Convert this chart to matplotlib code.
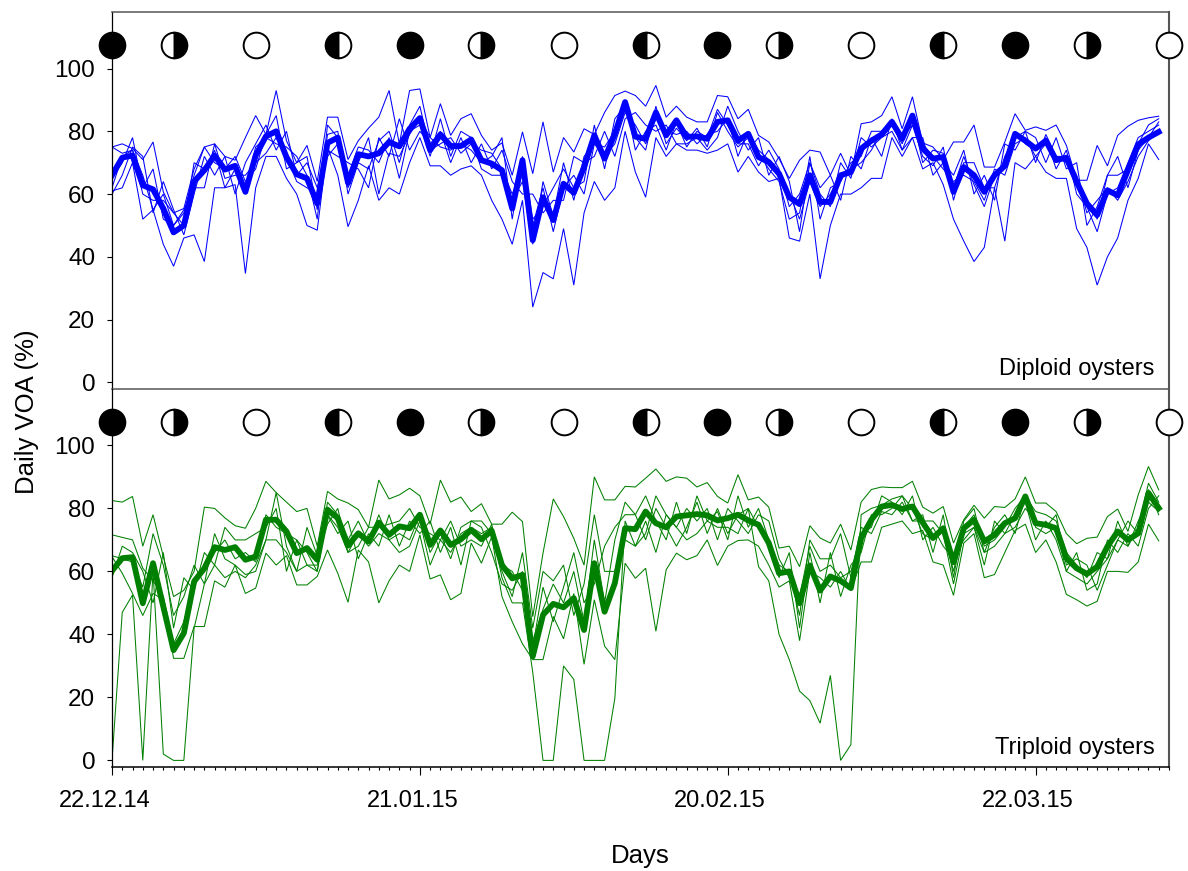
import numpy as np
import matplotlib
matplotlib.use('Agg')
import matplotlib.pyplot as plt
from matplotlib.transforms import ScaledTranslation

plt.rcParams['font.family'] = ['Liberation Sans', 'DejaVu Sans']

# Values, one entry per day from 22.12.14
diploid_mean = [66, 71.6, 72.3, 62.8, 61.5, 55.4, 47.8, 50, 64, 67.6,
                72.3, 67.8, 69, 60.7, 72.3, 78.4, 80, 71.8, 66.3, 65,
                57, 76.3, 78, 63.6, 72.7, 72, 73, 76.6, 75.2, 80.8,
                84.2, 74, 79, 75.3, 75.3, 77.4, 70.8, 69.7, 67.6, 55.4,
                70.8, 45.3, 59, 51.7, 63.3, 60.4, 68.6, 78.7, 71.3, 79.2,
                89.3, 78.3, 77.6, 86, 78.7, 83.5, 78.2, 78.4, 77.6, 83,
                83.5, 77, 79.2, 71.8, 70.2, 66.5, 59, 56.8, 66, 57.5,
                57.5, 66, 67, 74.5, 77, 79, 83, 77.6, 85, 74.5,
                71.3, 71.8, 60.7, 68.6, 66, 60.7, 66, 69, 79.2, 77,
                74.5, 77, 70.8, 71.6, 63.9, 57, 53.3, 61.2, 59.6, 67.6,
                75.8, 78, 79.8]
diploid_a = [75, 76, 74.5, 71, 76.6, 60.7, 54, 55.4, 68, 75,
             76, 72, 70.8, 78, 85, 79, 93, 77, 70, 75.5,
             64, 84.5, 84.5, 71, 77, 81, 84.5, 93, 76, 93,
             93.5, 78, 88.8, 78.7, 84, 85.6, 78.7, 74, 76.3, 66,
             79.8, 66.5, 83, 67, 78, 73.4, 80.8, 79, 86, 91.4,
             92.8, 91.4, 88, 94.6, 84.5, 88, 84.5, 83, 83, 91.4,
             91, 84, 87, 78.7, 76.6, 71.3, 65, 70.8, 74, 73.4,
             66, 73, 66, 82.4, 83, 85, 91, 80.8, 91, 76.3,
             75, 71, 76.6, 76.6, 82, 68.6, 68.6, 76.6, 85.6, 80.3,
             81.4, 80.3, 82, 75.5, 64.4, 64.4, 75.5, 69, 78.7, 81.6,
             83.5, 84.3, 84.8]
diploid_b = [61, 62, 70, 52, 55, 44, 37, 46, 47, 38.5,
             62, 62, 63, 34.7, 62, 72, 72, 65, 60, 50,
             48.5, 75, 66, 49.6, 58, 69, 58, 62, 60, 70,
             78, 69, 69, 66, 68, 69, 66, 58, 52, 44,
             58, 24, 35, 33, 49, 31, 54, 64, 58, 62,
             80, 67, 59, 78, 72, 76, 74, 74, 73, 74,
             76, 67, 72, 67, 64, 65, 46, 45, 60, 33,
             50, 60, 60, 62, 65, 65, 78, 72, 78, 68,
             70, 63, 52, 45, 38.5, 43, 62, 45, 70, 68,
             72, 67, 65, 65, 49, 43, 31, 40, 46, 58,
             65, 76, 71]
diploid_c = [65, 70, 78, 62, 68, 52, 50, 54, 66, 75,
             70, 68, 72, 64, 68, 79, 85, 68, 70, 72,
             55, 79, 80, 60, 70, 78, 60, 73, 72, 79,
             84, 78, 75, 74, 76, 74, 70, 72, 78, 52,
             72, 52, 56, 62, 68, 62, 64, 82, 68, 84,
             88, 78, 74, 88, 76, 81, 77, 81, 75, 86,
             80, 75, 78, 73, 68, 64, 52, 54, 72, 52,
             62, 64, 70, 72, 80, 80, 82, 76, 85, 70,
             74, 73, 62, 72, 63, 56, 66, 70, 80, 76,
             74, 78, 68, 74, 60, 56, 48, 60, 62, 70,
             78, 80, 82]
diploid_d = [75, 73, 74, 60, 58, 58, 54, 50, 70, 68,
             74, 62, 68, 62, 75, 78, 76, 75, 72, 66,
             52, 82, 78, 66, 75, 74, 70, 78, 65, 80,
             82, 72, 84, 72, 80, 78, 68, 66, 66, 58,
             64, 44, 64, 53, 70, 58, 72, 76, 75, 80,
             90, 74, 80, 82, 74, 83, 75, 80, 78, 87,
             82, 76, 76, 69, 74, 68, 56, 60, 70, 60,
             56, 70, 65, 78, 75, 78, 80, 74, 82, 72,
             69, 75, 58, 70, 70, 62, 62, 72, 78, 80,
             70, 79, 72, 70, 64, 58, 52, 66, 66, 68,
             76, 82, 84]
diploid_e = [62, 72, 74, 66, 55, 60, 50, 55, 62, 62,
             76, 65, 66, 66, 70, 73, 78, 72, 64, 62,
             60, 72, 76, 62, 70, 68, 77, 80, 70, 82,
             88, 74, 76, 78, 73, 76, 74, 73, 68, 60,
             68, 50, 62, 48, 62, 66, 60, 76, 72, 76,
             86, 82, 76, 84, 80, 79, 80, 76, 79, 80,
             84, 72, 80, 74, 71, 66, 60, 52, 64, 56,
             60, 66, 68, 70, 74, 80, 82, 78, 82, 76,
             72, 68, 64, 66, 64, 58, 68, 66, 76, 78,
             72, 76, 72, 72, 66, 54, 58, 62, 58, 64,
             72, 77, 80]
diploid_f = [60, 66, 75, 72, 54, 64, 55, 47, 60, 72,
             66, 72, 60, 70, 76, 82, 74, 80, 66, 70,
             62, 74, 72, 70, 68, 62, 78, 72, 84, 74,
             80, 76, 80, 70, 78, 70, 76, 68, 74, 64,
             60, 60, 54, 58, 58, 72, 70, 72, 80, 72,
             84, 86, 82, 80, 82, 76, 76, 78, 74, 78,
             88, 80, 74, 78, 66, 72, 64, 48, 70, 62,
             66, 58, 72, 68, 78, 72, 84, 74, 78, 78,
             66, 70, 66, 74, 60, 66, 58, 76, 74, 80,
             78, 70, 78, 68, 70, 50, 56, 66, 72, 62,
             74, 78, 83]

triploid_mean = [60.2, 64.2, 64.5, 49.9, 62.6, 48.8, 35, 40.4, 56.8, 61,
                 67.7, 66.8, 67.7, 63.7, 64.7, 76.4, 76.4, 72.7, 65.8, 67.4,
                 63.7, 79.6, 76.9, 68.2, 72.1, 69.5, 75.5, 71.6, 74.3, 73.7,
                 78, 68.4, 73, 68.4, 70.2, 73.2, 70.2, 72.9, 62, 57.8,
                 58.9, 33, 46.2, 49.7, 48.6, 51.5, 41.4, 62.6, 47.2, 56.3,
                 73.7, 73.4, 79, 75.3, 74, 77.4, 77.8, 78.2, 77.8, 76.2,
                 76.9, 78, 76.2, 74.8, 69, 59.4, 60, 49.9, 61.9, 53.9,
                 58.4, 57, 54.7, 70.6, 76.4, 80.6, 81.1, 79.8, 80.6, 75.5,
                 70.6, 73.7, 62.9, 73.7, 76.4, 69.5, 71.6, 75.3, 76.9, 83.8,
                 75.3, 74.8, 73.7, 64.2, 61, 59.2, 61.5, 67.9, 72.7, 70,
                 72.1, 84.9, 80.1]
triploid_a = [82.5, 82, 83.8, 68, 78, 64.7, 52, 54, 60, 80.4,
              80, 77, 74.5, 73.7, 80, 88.6, 85, 82, 79, 80,
              68, 85.4, 83, 81.7, 79.6, 74, 89, 83, 84.3, 86.4,
              84, 75, 89, 82, 83.6, 79, 81.5, 75, 75, 78.8,
              75.8, 45.6, 65.8, 83, 77.4, 70.5, 62, 90, 82.7, 82.7,
              87, 86.8, 89.6, 92.5, 88.6, 90, 89.6, 86.8, 88.2, 83.8,
              81.7, 90.7, 82.7, 83.6, 80.4, 67.4, 68, 61.5, 74.5, 70.6,
              69, 75, 66.8, 82, 86, 86.8, 86.6, 86.6, 88.6, 80.4,
              78.5, 80.6, 69, 76.4, 81, 76.9, 80.6, 80.3, 83, 90,
              81.7, 81.7, 79, 72, 68.8, 70.5, 70.9, 77.4, 79.8, 72.7,
              84.3, 93.3, 85.9]
triploid_b = [64.7, 59.4, 53, 46, 53, 51, 32.4, 32.4, 42.5, 42.5,
              57, 55, 62, 53, 54.7, 65.8, 62, 65, 55.7, 55.7,
              58.4, 66.8, 59.4, 50.2, 66.8, 63, 50, 57, 62, 60,
              71.6, 57.6, 58.9, 51, 53, 69, 62.6, 71, 52, 44,
              37, 32, 32, 45.7, 38.6, 53, 30.5, 51, 36.3, 32,
              62.6, 57.8, 61, 41, 60.5, 65.8, 63.7, 65, 70, 61.9,
              68, 69.8, 70, 68, 62, 55, 57, 38, 60, 58,
              55, 60, 54, 63, 63, 74, 75, 76, 72, 73,
              63, 62, 52.4, 69, 72, 58, 59, 66, 73, 75,
              66, 70, 63, 52.7, 51, 49, 50.5, 60, 60, 59.7,
              63, 75, 69.7]
# this one has the long drops to zero
triploid_c = [0, 47, 52.5, 0, 60, 2, 0, 0, 42, 56,
              62, 58, 60, 58, 62, 70, 70, 66, 60, 62,
              62, 78, 74, 66, 72, 68, 72, 70, 66, 68,
              76, 62, 70, 66, 72, 74, 72, 74, 58, 50,
              50, 28, 0, 0, 30, 25.7, 0, 0, 0, 19.7,
              76, 68, 76, 66, 78, 74, 70, 72, 76, 74,
              74, 72, 80, 61.5, 57, 40, 32, 22, 19, 11.8,
              27, 0, 5, 78, 80, 81, 83, 84, 80, 72,
              70, 74, 60, 74, 78, 68, 70, 74, 80, 84,
              74, 72, 74, 60, 58, 56, 60, 64, 70, 68,
              74, 88, 82]
triploid_d = [71.6, 70.8, 70, 61, 57, 52, 37, 44, 56, 60,
              66, 70, 64, 66, 63, 78, 74, 72, 70, 62,
              60, 82, 78, 70, 76, 69, 78, 70, 72, 70,
              78, 66, 72, 64, 74, 76, 76, 72, 62, 60,
              54, 38, 48, 56, 50, 60, 44, 70, 50, 70,
              82, 78, 84, 76, 70, 82, 72, 84, 76, 79,
              70, 84, 74, 80, 70, 62, 60, 46, 70, 64,
              64, 72, 58, 74, 72, 79, 78, 82, 76, 78,
              66, 78, 58, 76, 80, 66, 74, 78, 72, 84,
              79, 78, 76, 66, 62, 58, 66, 64, 76, 68,
              76, 82, 79]
triploid_e = [65, 64, 63, 55, 72, 62, 46, 52, 62, 56,
              72, 64, 62, 59, 60, 70, 85, 68, 60, 74,
              65, 75, 80, 66, 68, 74, 74, 75, 76, 80,
              74, 72, 70, 76, 68, 70, 68, 75, 60, 52,
              66, 42, 60, 57, 62, 46, 56, 78, 60, 60,
              70, 68, 72, 84, 78, 74, 80, 76, 80, 70,
              80, 76, 72, 78, 76, 64, 58, 52, 68, 60,
              62, 58, 60, 72, 74, 84, 82, 78, 84, 70,
              74, 68, 64, 70, 74, 62, 76, 72, 78, 82,
              70, 76, 70, 60, 66, 54, 56, 70, 66, 72,
              68, 80, 84]
triploid_f = [58, 68, 66, 60, 50, 66, 42, 58, 54, 66,
              62, 74, 70, 70, 72, 74, 80, 60, 70, 66,
              60, 78, 72, 76, 64, 72, 68, 78, 68, 76,
              72, 76, 66, 74, 62, 76, 74, 66, 56, 54,
              60, 36, 55, 44, 55, 66, 50, 56, 68, 74,
              78, 78, 70, 80, 74, 68, 74, 82, 72, 80,
              72, 78, 80, 74, 70, 58, 66, 42, 66, 50,
              66, 52, 62, 66, 78, 78, 80, 84, 76, 76,
              76, 72, 56, 72, 74, 66, 68, 72, 74, 80,
              76, 74, 78, 62, 64, 62, 54, 62, 70, 76,
              72, 86, 78]

# moon phases: day offset and phase
new_moon = [0, 29, 59, 88]
first_quarter = [6, 36, 65, 95]
full_moon = [14, 44, 73, 103]
last_quarter = [22, 52, 81]

tick_days = [0, 30, 60, 90]
tick_labels = ['22.12.14', '21.01.15', '20.02.15', '22.03.15']
y_ticks = [0, 20, 40, 60, 80, 100]

for s in [diploid_mean, diploid_a, diploid_b, diploid_c, diploid_d, diploid_e, diploid_f,
          triploid_mean, triploid_a, triploid_b, triploid_c, triploid_d, triploid_e, triploid_f]:
    assert len(s) == 103, len(s)

W, H = 1188, 871
fig = plt.figure(figsize=(W / 100, H / 100), dpi=100)
left, right = 112 / W, 1169 / W
ax1 = fig.add_axes([left, 1 - 388.7 / H, right - left, (388.7 - 12) / H])
ax2 = fig.add_axes([left, 1 - 766.7 / H, right - left, (766.7 - 388.7) / H])
ax2.patch.set_visible(False)
days = np.arange(103)


def draw_panel(ax, thin_lines, mean, color, label, label_y):
    for line in thin_lines:
        ax.plot(days, line, color=color, lw=0.75, solid_joinstyle='miter')
    ax.plot(days, mean, color=color, lw=4.2, solid_joinstyle='round')

    # moon symbols sit above the data
    moon = dict(marker='o', ms=18.5, mec='black', mew=1.4, ls='none',
                clip_on=False, zorder=5)
    ax.plot(new_moon, [107.4] * len(new_moon), mfc='black', **moon)
    ax.plot(full_moon, [107.4] * len(full_moon), mfc='white', **moon)
    ax.plot(first_quarter, [107.4] * len(first_quarter), fillstyle='right',
            mfc='black', markerfacecoloralt='white', **moon)
    ax.plot(last_quarter, [107.4] * len(last_quarter), fillstyle='left',
            mfc='black', markerfacecoloralt='white', **moon)

    ax.set_xlim(0, 103)
    ax.set_ylim(-2, 118)
    ax.set_yticks(y_ticks)
    ax.tick_params(axis='y', length=3.5, width=0.8, labelsize=17.5, pad=8.5)
    ax.text(101.6, label_y, label, ha='right', va='center', fontsize=17)
    for side in ax.spines:
        ax.spines[side].set_color('#555555')
        ax.spines[side].set_linewidth(1.1)
    ax.spines['right'].set_linewidth(1.5)
    ax.spines['left'].set_color('black')
    ax.spines['left'].set_linewidth(0.9)


draw_panel(ax1, [diploid_a, diploid_b, diploid_c, diploid_d, diploid_e, diploid_f],
           diploid_mean, (0, 0, 1), 'Diploid oysters', 4.2)
draw_panel(ax2, [triploid_a, triploid_b, triploid_c, triploid_d, triploid_e, triploid_f],
           triploid_mean, (0, 0.5, 0), 'Triploid oysters', 3.9)

ax1.set_xticks([])
ax2.spines['top'].set_visible(False)
ax2.spines['bottom'].set_color('black')
ax2.set_xticks(tick_days)
ax2.set_xticklabels(tick_labels)
ax2.set_xticks(np.arange(0, 104), minor=True)
ax2.tick_params(axis='x', which='major', length=6, width=0.8, labelsize=17, pad=11)
ax2.tick_params(axis='x', which='minor', length=2.2, width=0.8)
# date labels sit a little left of their ticks
for lab in ax2.get_xticklabels():
    lab.set_transform(lab.get_transform() + ScaledTranslation(-0.075, 0, fig.dpi_scale_trans))
ax2.set_xlabel('Days', fontsize=18.5, labelpad=23)

fig.text(27 / W, 1 - 412 / H, 'Daily VOA (%)', rotation=90, ha='center',
         va='center', fontsize=18.5)

fig.savefig('out.png', dpi=100)
